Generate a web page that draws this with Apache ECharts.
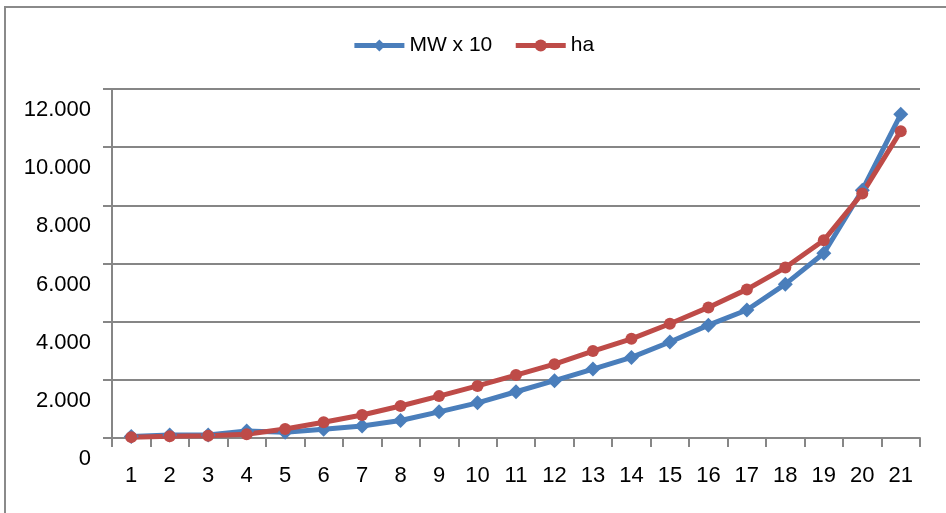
<!DOCTYPE html>
<html>
<head>
<meta charset="utf-8">
<script src="https://cdn.jsdelivr.net/npm/echarts@6/dist/echarts.min.js"></script>
<style>
    html, body { margin: 0; padding: 0; background: #fff; }
    #chart { width: 946px; height: 513px; }
</style>
</head>
<body>
<div id="chart"></div>
<script>
var categories = ['1','2','3','4','5','6','7','8','9','10','11','12','13','14','15','16','17','18','19','20','21'];
// MW x 10
var mwValues = [50, 100, 100, 240, 200, 300, 410, 600, 900, 1210, 1590, 1970, 2370, 2770, 3300, 3880, 4400, 5290, 6350, 8520, 11130];
// ha
var haValues = [30, 60, 80, 130, 310, 540, 790, 1100, 1440, 1790, 2165, 2540, 2990, 3410, 3930, 4490, 5110, 5860, 6800, 8410, 10550];
var seriesNames = ['MW x 10', 'ha'];

var fontName = '"Liberation Sans", Arial, sans-serif';
var gridColor = '#868686';

function thousands(v) {
    return String(v).replace(/\B(?=(\d{3})+(?!\d))/g, '.');
}

var myChart = echarts.init(document.getElementById('chart'));

var option = {
    backgroundColor: '#fff',
    animation: false,
    textStyle: { fontFamily: fontName },
    graphic: [{
        type: 'polyline',
        shape: { points: [[5, 513], [5, 7], [946, 7]] },
        style: { stroke: '#8a8a8a', lineWidth: 2, fill: null }
    }],
    legend: {
        top: 30,
        left: 'center',
        itemWidth: 50,
        itemHeight: 15,
        itemGap: 21,
        lineStyle: { width: 5 },
        textStyle: { fontSize: 21, color: '#000', fontFamily: fontName },
        data: seriesNames
    },
    grid: {
        left: 112,
        right: 26,
        top: 89,
        bottom: 75
    },
    xAxis: {
        type: 'category',
        data: categories,
        boundaryGap: true,
        axisLine: { lineStyle: { color: gridColor, width: 2 } },
        axisTick: { show: true, length: 9, lineStyle: { color: gridColor, width: 2 } },
        axisLabel: { color: '#000', fontSize: 22, margin: 27, interval: 0, fontFamily: fontName }
    },
    yAxis: {
        type: 'value',
        min: 0,
        max: 12000,
        interval: 2000,
        axisLine: { show: true, lineStyle: { color: gridColor, width: 2 } },
        axisTick: { show: true, length: 9, lineStyle: { color: gridColor, width: 2 } },
        splitLine: { lineStyle: { color: gridColor, width: 2 } },
        axisLabel: {
            color: '#000',
            fontSize: 22,
            margin: 21,
            verticalAlign: 'top',
            lineHeight: 42,
            fontFamily: fontName,
            formatter: function (v) { return thousands(v); }
        }
    },
    series: [
        {
            name: seriesNames[0],
            type: 'line',
            data: mwValues,
            symbol: 'diamond',
            symbolSize: 15,
            color: '#4A7EBB',
            lineStyle: { width: 5, color: '#4A7EBB' },
            itemStyle: { color: '#4A7EBB' }
        },
        {
            name: seriesNames[1],
            type: 'line',
            data: haValues,
            symbol: 'circle',
            symbolSize: 12,
            color: '#BE4B48',
            lineStyle: { width: 5, color: '#BE4B48' },
            itemStyle: { color: '#BE4B48' }
        }
    ]
};

myChart.setOption(option);
</script>
</body>
</html>
